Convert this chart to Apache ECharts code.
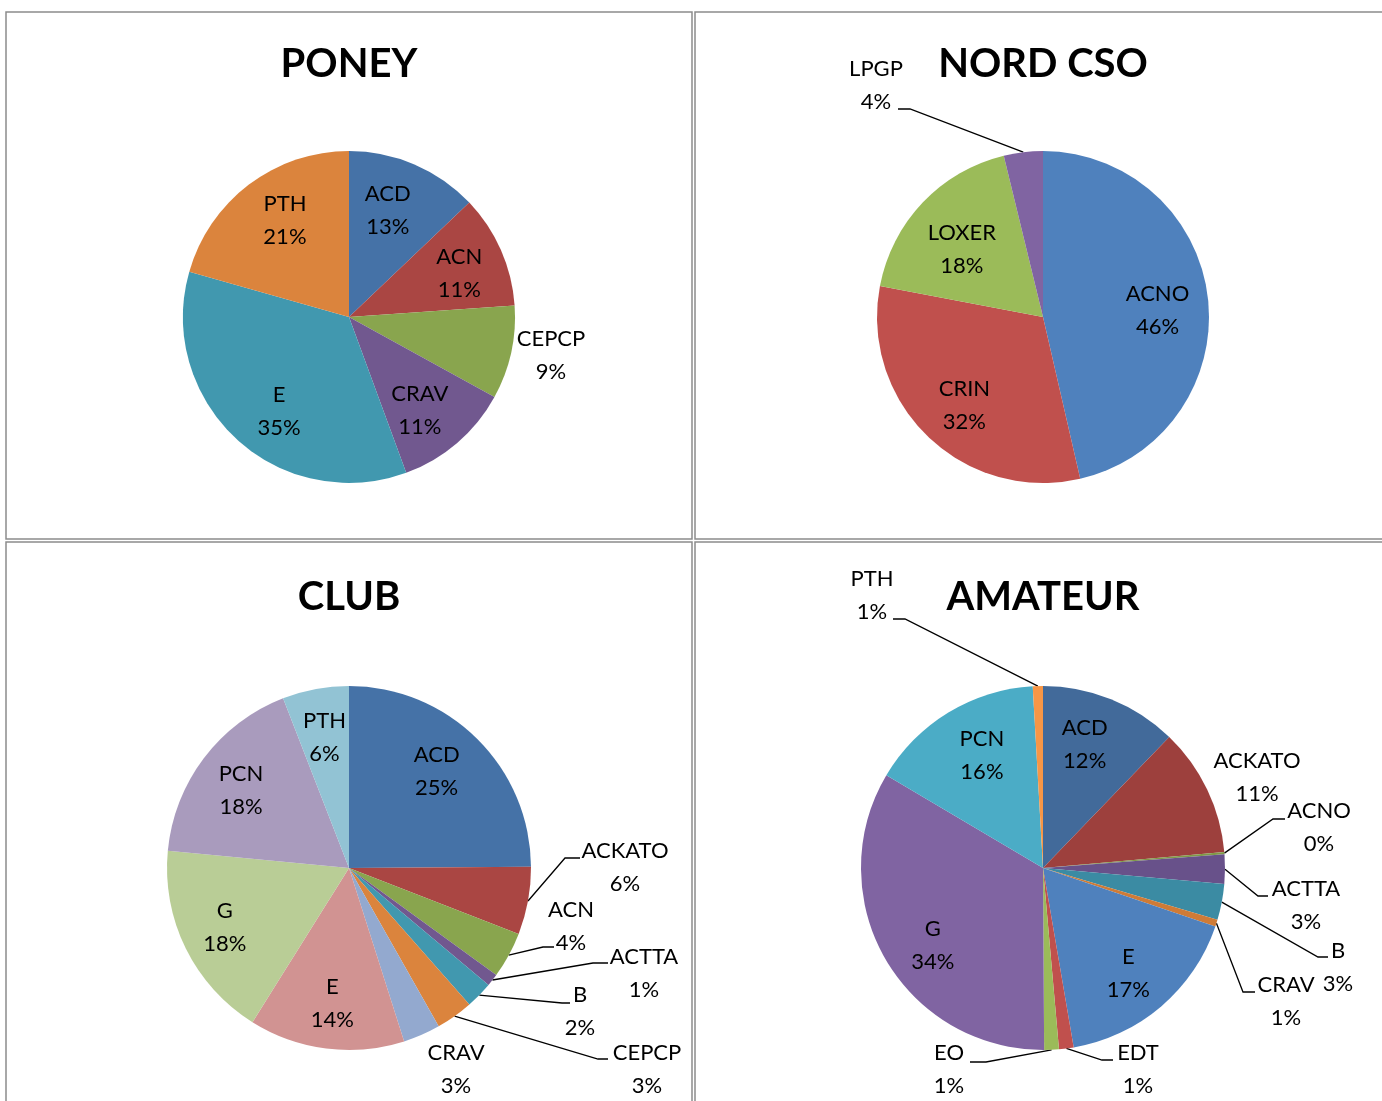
<!DOCTYPE html>
<html>
<head>
<meta charset="utf-8">
<script src="https://cdn.jsdelivr.net/npm/echarts@6/dist/echarts.min.js"></script>
<style>
html,body{margin:0;padding:0;background:#fff;}
#chart{width:1382px;height:1101px;}
</style>
</head>
<body>
<div id="chart"></div>
<script>
// ---- Data (percent shares) ----
const titles = ['PONEY', 'NORD CSO', 'CLUB', 'AMATEUR'];

const poneyCats = ['ACD', 'ACN', 'CEPCP', 'CRAV', 'E', 'PTH'];
const poneyVals = [12.9, 11.0, 9.1, 11.4, 35.0, 20.6];

const nordCats = ['ACNO', 'CRIN', 'LOXER', 'LPGP'];
const nordVals = [46.4, 31.6, 18.2, 3.8];

const clubCats = ['ACD', 'ACKATO', 'ACN', 'ACTTA', 'B', 'CEPCP', 'CRAV', 'E', 'G', 'PCN', 'PTH'];
const clubVals = [24.9, 6.0, 4.1, 1.1, 2.4, 3.3, 3.3, 13.8, 17.6, 17.6, 5.9];

const amatCats = ['ACD', 'ACKATO', 'ACNO', 'ACTTA', 'B', 'CRAV', 'E', 'EDT', 'EO', 'G', 'PCN', 'PTH'];
const amatVals = [12.2, 11.4, 0.2, 2.6, 3.2, 0.6, 17.1, 1.3, 1.3, 33.6, 15.6, 0.9];

// ---- Styles ----
const poneyColors = ['#4572A7', '#AA4643', '#89A54E', '#71588F', '#4198AF', '#DB843D'];
const nordColors = ['#4F81BD', '#C0504D', '#9BBB59', '#8064A2'];
const clubColors = ['#4572A7', '#AA4643', '#89A54E', '#71588F', '#4198AF', '#DB843D',
                    '#93A9CF', '#D19392', '#B9CD96', '#A99BBD', '#92C3D4'];
const amatColors = ['#426A9A', '#9D403D', '#7F9A48', '#68518A', '#3B8BA3', '#CF7B36',
                    '#4F81BD', '#C0504D', '#9BBB59', '#8064A2', '#4BACC6', '#F79646'];

// label placement for slices labelled outside the pie (label block centre, leader elbow, leader end)
const poneySpots = { CEPCP: { x: 551, y: 355 } };
const nordSpots = { LPGP: { x: 876, y: 85, line: [[910, 109], [898, 109]] } };
const clubSpots = {
  ACKATO: { x: 625, y: 867, line: [[565, 858], [580, 858]] },
  ACN:    { x: 571, y: 926, line: [[543, 947], [554, 947]] },
  ACTTA:  { x: 644, y: 973, line: [[593, 963], [608, 963]] },
  B:      { x: 580, y: 1011, line: [[562, 1003], [570, 1003]] },
  CEPCP:  { x: 647, y: 1069, line: [[598, 1059], [608, 1059]] },
  CRAV:   { x: 456, y: 1069 }
};
const amatSpots = {
  PTH:    { x: 872, y: 595, line: [[905, 619], [893, 619]] },
  ACKATO: { x: 1257, y: 777 },
  ACNO:   { x: 1319, y: 827, line: [[1273, 819], [1285, 819]] },
  ACTTA:  { x: 1306, y: 905, line: [[1258, 896], [1268, 896]] },
  B:      { x: 1338, y: 967, line: [[1318, 957], [1328, 957]] },
  CRAV:   { x: 1286, y: 1001, line: [[1243, 992], [1255, 992]] },
  EDT:    { x: 1138, y: 1069, line: [[1102, 1060], [1113, 1060]] },
  EO:     { x: 949, y: 1069, line: [[986, 1062], [970, 1062]] }
};
// small nudges (px) for labels drawn inside slices
const poneyNudge = { ACD: [-7, 0], ACN: [4, 3], CRAV: [-5, 5], E: [9, 9], PTH: [6, -4] };
const nordNudge = { ACNO: [-1, 7], CRIN: [2, 5], LOXER: [3, 12] };
const clubNudge = { ACD: [-6, -2], E: [0, 4], G: [-5, 1], PCN: [-2, 3] };
const amatNudge = { ACD: [-8, 0], PCN: [8, 1], G: [5, 11], E: [-1, 4] };

const FONT = 'Lato, "Open Sans", sans-serif';

function makeLayout(cats, vals, cx, cy, r, k, spots, nudge) {
  const total = vals.reduce((a, b) => a + b, 0);
  return function (p) {
    const i = p.dataIndex;
    let before = 0;
    for (let j = 0; j < i; j++) before += vals[j];
    const th = (before + vals[i] / 2) / total * 2 * Math.PI;
    const sx = Math.sin(th), sy = -Math.cos(th);
    const spot = spots[cats[i]];
    if (!spot) {
      const n = nudge[cats[i]] || [0, 0];
      return { x: cx + k * r * sx + n[0], y: cy + k * r * sy + n[1], align: 'center', verticalAlign: 'middle' };
    }
    const out = { x: spot.x, y: spot.y, align: 'center', verticalAlign: 'middle' };
    if (spot.line) {
      out.labelLinePoints = [[cx + r * sx, cy + r * sy], spot.line[0], spot.line[1]];
    }
    return out;
  };
}

function pieSeries(cats, vals, colors, cx, cy, r, k, spots, nudge) {
  return {
    type: 'pie',
    center: [cx, cy],
    radius: [0, r],
    startAngle: 90,
    clockwise: true,
    percentPrecision: 4,
    avoidLabelOverlap: false,
    animation: false,
    silent: true,
    itemStyle: { borderWidth: 0 },
    label: {
      show: true,
      color: '#000',
      fontFamily: FONT,
      fontSize: 22,
      lineHeight: 33,
      align: 'center',
      overflow: 'none',
      bleedMargin: 0,
      formatter: p => p.name + '\n' + Math.round(p.percent) + '%'
    },
    labelLine: { show: true, lineStyle: { color: '#000', width: 1.3 }, smooth: false },
    labelLayout: makeLayout(cats, vals, cx, cy, r, k, spots, nudge),
    data: cats.map((c, i) => ({
      name: c,
      value: vals[i],
      itemStyle: { color: colors[i] },
      label: { position: spots[c] ? 'outside' : 'inside' },
      labelLine: { show: !!(spots[c] && spots[c].line) }
    }))
  };
}

const titleStyle = { fontFamily: FONT, fontWeight: 'bold', fontSize: 40, color: '#000', lineHeight: 44 };
const titlePos = [[349, 42], [1043, 42], [349, 575], [1043, 575]];

const chart = echarts.init(document.getElementById('chart'), null, { renderer: 'canvas' });
chart.setOption({
  backgroundColor: '#fff',
  animation: false,
  title: titles.map((t, i) => ({
    text: t, left: titlePos[i][0], top: titlePos[i][1], padding: 0, textAlign: 'center', textStyle: titleStyle
  })),
  graphic: [
    { type: 'rect', silent: true, z: -1, shape: { x: 6, y: 12, width: 686, height: 527 }, style: { fill: 'none', stroke: '#8c8c8c', lineWidth: 1.5 } },
    { type: 'rect', silent: true, z: -1, shape: { x: 695, y: 12, width: 720, height: 527 }, style: { fill: 'none', stroke: '#8c8c8c', lineWidth: 1.5 } },
    { type: 'rect', silent: true, z: -1, shape: { x: 6, y: 542, width: 686, height: 620 }, style: { fill: 'none', stroke: '#8c8c8c', lineWidth: 1.5 } },
    { type: 'rect', silent: true, z: -1, shape: { x: 695, y: 542, width: 720, height: 620 }, style: { fill: 'none', stroke: '#8c8c8c', lineWidth: 1.5 } }
  ],
  series: [
    pieSeries(poneyCats, poneyVals, poneyColors, 349, 317, 166, 0.7, poneySpots, poneyNudge),
    pieSeries(nordCats, nordVals, nordColors, 1043, 317, 166, 0.7, nordSpots, nordNudge),
    pieSeries(clubCats, clubVals, clubColors, 349, 868, 182, 0.73, clubSpots, clubNudge),
    pieSeries(amatCats, amatVals, amatColors, 1043, 868, 182, 0.73, amatSpots, amatNudge)
  ]
});
</script>
</body>
</html>
